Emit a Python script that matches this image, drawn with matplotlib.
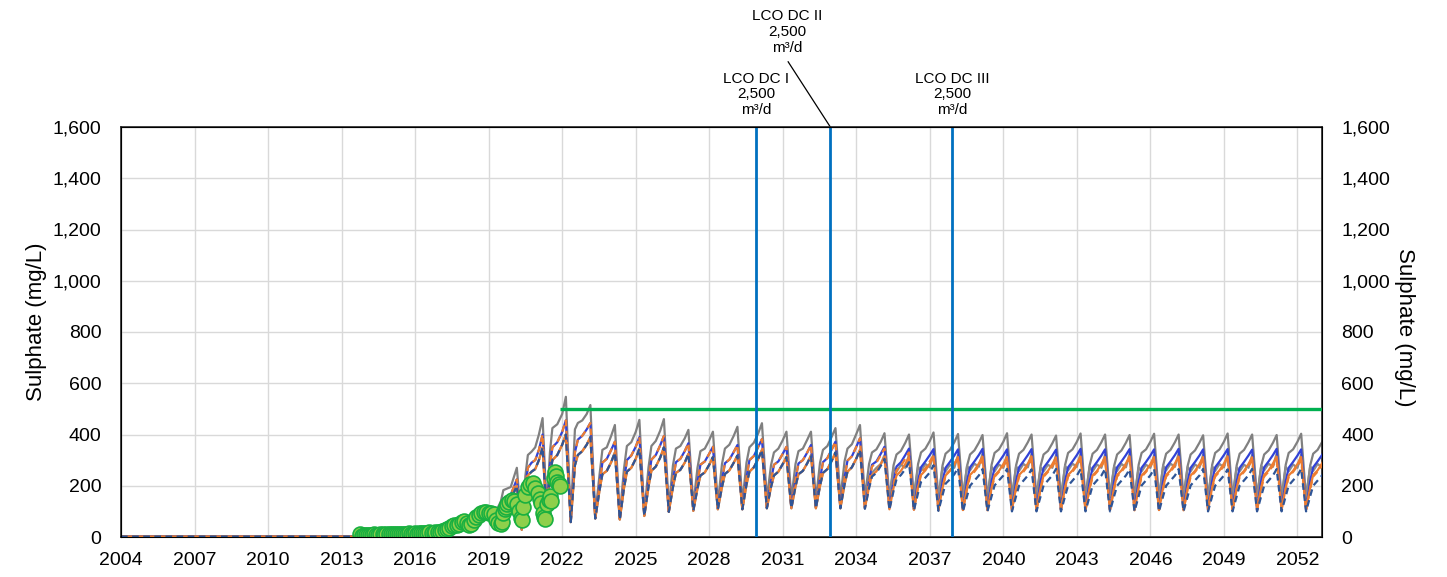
import numpy as np
import matplotlib
matplotlib.use("Agg")
import matplotlib.pyplot as plt
import matplotlib.ticker as mticker
from matplotlib.transforms import blended_transform_factory

plt.rcParams['font.family'] = ['Liberation Sans', 'DejaVu Sans']

# observed sulphate (decimal year, mg/L)
obs_year = [2013.75, 2013.83, 2013.92, 2014.0, 2014.08, 2014.17, 2014.25, 2014.33, 2014.42, 2014.5,
            2014.58, 2014.67, 2014.75, 2014.83, 2014.92, 2015.0, 2015.08, 2015.17, 2015.25, 2015.33,
            2015.42, 2015.5, 2015.58, 2015.67, 2015.75, 2015.83, 2015.92, 2016.0, 2016.08, 2016.17,
            2016.25, 2016.33, 2016.42, 2016.5, 2016.58, 2016.67, 2016.75, 2016.83, 2016.92, 2017.0,
            2017.1, 2017.2, 2017.3, 2017.4, 2017.5, 2017.6, 2017.7, 2017.8, 2017.9, 2018.0,
            2018.1, 2018.2, 2018.3, 2018.4, 2018.5, 2018.6, 2018.7, 2018.8, 2018.9, 2019.0,
            2019.1, 2019.2, 2019.3, 2019.4, 2019.5, 2019.55, 2019.6, 2019.65, 2019.7, 2019.75,
            2019.85, 2019.95, 2020.05, 2020.15, 2020.25, 2020.3, 2020.35, 2020.4, 2020.5, 2020.6,
            2020.7, 2020.8, 2020.9, 2021.0, 2021.1, 2021.15, 2021.2, 2021.25, 2021.3, 2021.4,
            2021.45, 2021.5, 2021.55, 2021.65, 2021.7, 2021.75, 2021.8, 2021.85, 2021.9]
obs_val = [10, 4, 8, 6, 9, 7, 8, 10, 9, 8,
           10, 11, 9, 10, 12, 10, 11, 12, 10, 12,
           13, 12, 11, 13, 14, 12, 13, 15, 13, 14,
           16, 15, 14, 16, 18, 17, 15, 18, 20, 19,
           22, 26, 30, 36, 42, 46, 48, 52, 58, 62,
           55, 45, 50, 65, 78, 86, 92, 96, 98, 95,
           92, 88, 65, 55, 50, 58, 95, 110, 118, 128,
           138, 144, 140, 130, 100, 75, 68, 118, 165, 195,
           205, 210, 190, 170, 150, 132, 95, 78, 70, 130,
           145, 160, 140, 230, 255, 240, 216, 205, 200]

# model, before the seasonal cycles (decimal year, mg/L)
pre_year = [2004.0, 2013.5, 2014.0, 2015.0, 2016.0, 2017.0, 2017.5, 2018.0, 2018.5, 2018.8,
            2019.1, 2019.3, 2019.5, 2019.6, 2019.9, 2020.15, 2020.35, 2020.5, 2020.6, 2020.75,
            2020.9, 2021.05, 2021.2, 2021.37, 2021.5, 2021.6, 2021.8, 2022.0, 2022.15]
grey_hi_pre = [3, 3, 6, 9, 13, 18, 35, 55, 75, 105,
               118, 100, 140, 183, 195, 270, 40, 240, 320, 333,
               350, 400, 464, 105, 330, 425, 440, 480, 547]
grey_lo_pre = [2, 2, 4, 7, 10, 14, 27, 42, 58, 80,
               90, 75, 100, 130, 145, 200, 28, 180, 240, 255,
               265, 300, 350, 70, 240, 300, 320, 360, 400]
blue_pre = [2, 2, 5, 8, 12, 16, 30, 48, 65, 90,
            100, 85, 115, 150, 165, 225, 30, 200, 270, 290,
            300, 340, 400, 80, 280, 350, 370, 410, 455]
orange_pre = [2, 2, 4, 7, 10, 14, 27, 42, 58, 80,
              90, 75, 100, 130, 145, 200, 28, 180, 240, 255,
              265, 300, 350, 70, 240, 300, 320, 360, 400]
orange_dash_pre = [2, 2, 5, 8, 12, 16, 30, 48, 65, 90,
                   100, 85, 115, 150, 165, 225, 30, 200, 270, 290,
                   300, 340, 400, 80, 280, 350, 370, 410, 455]
blue_dash_pre = [2, 2, 4, 7, 10, 14, 27, 42, 58, 80,
                 90, 75, 100, 130, 145, 200, 28, 180, 240, 255,
                 265, 300, 350, 70, 240, 300, 320, 360, 400]

# seasonal cycles: one row per year, values at trough, rise, plateau, mid, pre-peak, peak
cycle_years = list(range(2022, 2053))
phase = [0.35, 0.52, 0.64, 0.82, 1.0, 1.15]

grey_hi = [
    [74, 420, 445, 455, 480, 515], [86, 240, 340, 350, 395, 437], [80, 265, 355, 370, 410, 457],
    [91, 270, 355, 375, 415, 460], [118, 280, 345, 355, 385, 418], [125, 270, 335, 345, 378, 411],
    [130, 285, 345, 360, 395, 430], [135, 290, 350, 368, 405, 444], [150, 280, 330, 345, 378, 411],
    [150, 285, 335, 345, 380, 411], [145, 290, 340, 355, 392, 425], [150, 295, 345, 362, 402, 437],
    [155, 285, 330, 342, 372, 405], [150, 280, 322, 336, 368, 400], [155, 285, 330, 345, 375, 408],
    [150, 280, 325, 340, 370, 402], [155, 278, 322, 338, 368, 398], [150, 282, 328, 342, 372, 405],
    [152, 280, 325, 340, 370, 400], [155, 278, 322, 336, 366, 396], [150, 282, 328, 342, 372, 404],
    [152, 280, 325, 340, 370, 400], [155, 278, 322, 338, 368, 398], [150, 282, 328, 342, 372, 403],
    [152, 280, 325, 340, 370, 400], [155, 278, 322, 338, 368, 397], [150, 282, 328, 342, 372, 404],
    [152, 280, 325, 340, 370, 400], [155, 278, 322, 338, 368, 398], [150, 282, 328, 342, 372, 403],
    [152, 280, 325, 340, 370, 400]]
grey_lo = [
    [58, 280, 320, 335, 360, 390], [72, 180, 245, 258, 292, 330], [68, 190, 255, 270, 305, 345],
    [82, 195, 258, 275, 310, 350], [98, 195, 250, 262, 290, 325], [102, 190, 240, 252, 282, 312],
    [108, 195, 246, 260, 290, 318], [108, 205, 255, 272, 305, 340], [112, 195, 240, 255, 285, 312],
    [112, 198, 245, 258, 288, 318], [112, 200, 250, 265, 298, 330], [112, 205, 255, 272, 306, 340],
    [130, 240, 250, 270, 285, 320], [150, 270, 255, 282, 270, 322], [155, 275, 258, 285, 272, 325],
    [152, 272, 256, 282, 270, 320], [155, 278, 260, 286, 274, 326], [152, 274, 256, 283, 270, 322],
    [155, 276, 258, 285, 272, 325], [152, 272, 256, 282, 270, 320], [155, 278, 260, 286, 274, 326],
    [152, 274, 256, 283, 270, 322], [155, 276, 258, 285, 272, 325], [152, 272, 256, 282, 270, 320],
    [155, 278, 260, 286, 274, 326], [152, 274, 256, 283, 270, 322], [155, 276, 258, 285, 272, 325],
    [152, 272, 256, 282, 270, 320], [155, 278, 260, 286, 274, 326], [152, 274, 256, 283, 270, 322],
    [155, 276, 258, 285, 272, 325]]
blue = [
    [60, 330, 380, 395, 420, 445], [75, 200, 290, 305, 340, 372], [70, 215, 300, 318, 352, 390],
    [85, 220, 302, 320, 358, 394], [100, 222, 292, 305, 335, 366], [105, 215, 282, 295, 325, 352],
    [110, 222, 288, 302, 332, 359], [110, 232, 300, 316, 352, 382], [115, 220, 282, 295, 325, 352],
    [115, 225, 287, 300, 330, 359], [115, 228, 292, 308, 342, 372], [115, 232, 298, 315, 352, 385],
    [115, 220, 282, 295, 325, 352], [112, 218, 275, 292, 320, 345], [108, 220, 272, 295, 320, 343],
    [108, 218, 270, 293, 318, 342], [106, 220, 272, 295, 320, 344], [108, 218, 270, 293, 318, 342],
    [106, 220, 272, 295, 320, 343], [108, 218, 270, 293, 318, 341], [106, 220, 272, 295, 320, 344],
    [108, 218, 270, 293, 318, 342], [106, 220, 272, 295, 320, 343], [108, 218, 270, 293, 318, 342],
    [106, 220, 272, 295, 320, 344], [108, 218, 270, 293, 318, 342], [106, 220, 272, 295, 320, 343],
    [108, 218, 270, 293, 318, 341], [106, 220, 272, 295, 320, 344], [108, 218, 270, 293, 318, 342],
    [106, 220, 272, 295, 320, 343]]
orange = [
    [58, 280, 320, 335, 360, 390], [72, 180, 245, 258, 292, 330], [68, 190, 255, 270, 305, 345],
    [82, 195, 258, 275, 310, 350], [98, 195, 250, 262, 290, 325], [102, 190, 240, 252, 282, 312],
    [108, 195, 246, 260, 290, 318], [108, 205, 255, 272, 305, 340], [112, 195, 240, 255, 285, 312],
    [112, 198, 245, 258, 288, 318], [112, 200, 250, 265, 298, 330], [112, 205, 255, 272, 306, 340],
    [112, 195, 242, 256, 285, 312], [108, 192, 240, 258, 285, 313], [106, 194, 242, 260, 287, 315],
    [104, 192, 240, 258, 285, 312], [106, 194, 242, 260, 287, 314], [104, 192, 240, 258, 285, 312],
    [106, 194, 242, 260, 287, 315], [104, 192, 240, 258, 285, 311], [106, 194, 242, 260, 287, 314],
    [104, 192, 240, 258, 285, 312], [106, 194, 242, 260, 287, 315], [104, 192, 240, 258, 285, 312],
    [106, 194, 242, 260, 287, 314], [104, 192, 240, 258, 285, 312], [106, 194, 242, 260, 287, 315],
    [104, 192, 240, 258, 285, 311], [106, 194, 242, 260, 287, 314], [104, 192, 240, 258, 285, 312],
    [106, 194, 242, 260, 287, 315]]
orange_dash = [
    [60, 330, 380, 395, 420, 445], [75, 200, 290, 305, 340, 372], [70, 215, 300, 318, 352, 390],
    [85, 220, 302, 320, 358, 394], [100, 222, 292, 305, 335, 366], [105, 215, 282, 295, 325, 352],
    [110, 222, 288, 302, 332, 359], [110, 232, 300, 316, 352, 382], [115, 220, 282, 295, 325, 352],
    [115, 225, 287, 300, 330, 359], [115, 228, 292, 308, 342, 372], [115, 232, 298, 315, 352, 385],
    [114, 215, 275, 290, 320, 345], [110, 205, 260, 278, 305, 330], [108, 198, 250, 268, 295, 318],
    [106, 192, 242, 260, 285, 308], [105, 188, 236, 255, 278, 300], [105, 188, 235, 254, 277, 300],
    [105, 188, 236, 255, 278, 301], [105, 188, 235, 254, 277, 299], [105, 188, 236, 255, 278, 300],
    [105, 188, 235, 254, 277, 300], [105, 188, 236, 255, 278, 301], [105, 188, 235, 254, 277, 299],
    [105, 188, 236, 255, 278, 300], [105, 188, 235, 254, 277, 300], [105, 188, 236, 255, 278, 301],
    [105, 188, 235, 254, 277, 299], [105, 188, 236, 255, 278, 300], [105, 188, 235, 254, 277, 300],
    [105, 188, 236, 255, 278, 301]]
blue_dash = [
    [58, 280, 320, 335, 360, 390], [72, 180, 245, 258, 292, 330], [68, 190, 255, 270, 305, 345],
    [82, 195, 258, 275, 310, 350], [98, 195, 250, 262, 290, 325], [102, 190, 240, 252, 282, 312],
    [108, 195, 246, 260, 290, 318], [108, 205, 255, 272, 305, 340], [112, 195, 240, 255, 285, 312],
    [112, 198, 245, 258, 288, 318], [112, 200, 250, 265, 298, 330], [112, 205, 255, 272, 306, 340],
    [110, 190, 236, 250, 278, 305], [106, 180, 225, 242, 265, 292], [104, 172, 215, 232, 252, 280],
    [102, 165, 208, 225, 245, 270], [100, 160, 200, 220, 240, 265], [100, 160, 201, 221, 240, 266],
    [100, 160, 200, 220, 240, 264], [100, 160, 201, 221, 241, 266], [100, 160, 200, 220, 240, 265],
    [100, 160, 201, 221, 240, 266], [100, 160, 200, 220, 240, 264], [100, 160, 201, 221, 241, 266],
    [100, 160, 200, 220, 240, 265], [100, 160, 201, 221, 240, 266], [100, 160, 200, 220, 240, 264],
    [100, 160, 201, 221, 241, 266], [100, 160, 200, 220, 240, 265], [100, 160, 201, 221, 240, 266],
    [100, 160, 200, 220, 240, 264]]

# objective and discharge events
objective_value = 500
objective_start = 2021.9
event_years = [2029.92, 2032.94, 2037.92]
event_labels = ['LCO DC I\n2,500\nm\u00b3/d', 'LCO DC II\n2,500\nm\u00b3/d', 'LCO DC III\n2,500\nm\u00b3/d']


def build(pre_v, rows):
    t = list(pre_year)
    v = list(pre_v)
    for yr, row in zip(cycle_years, rows):
        for off, val in zip(phase, row):
            t.append(yr + off)
            v.append(val)
    return t, v


fig = plt.figure(figsize=(14.47, 5.77), dpi=100)
ax = fig.add_axes([121 / 1447, 40 / 577, 1201 / 1447, 410 / 577])

ax.plot(*build(grey_hi_pre, grey_hi), color='#808080', lw=1.6, zorder=2)
ax.plot(*build(grey_lo_pre, grey_lo), color='#8C8C8C', lw=1.6, zorder=2)
ax.plot(*build(blue_pre, blue), color='#3142D6', lw=1.6, zorder=3)
ax.plot(*build(orange_pre, orange), color='#ED7D31', lw=1.6, zorder=3)
ax.plot(*build(orange_dash_pre, orange_dash), color='#ED7D31', lw=1.6, ls=(0, (3, 2)), zorder=4)
ax.plot(*build(blue_dash_pre, blue_dash), color='#2F5597', lw=1.6, ls=(0, (3, 2)), zorder=4)

ax.hlines(objective_value, objective_start, 2053, color='#00B050', lw=2.4, zorder=5)
for ev in event_years:
    ax.axvline(ev, color='#0070C0', lw=2, zorder=5)

ax.scatter(obs_year, obs_val, s=115, facecolor='#8ED04B', edgecolor='#19B040', lw=1.2, zorder=6)

ax.set_xlim(2004, 2053)
ax.set_ylim(0, 1600)
ax.set_xticks(range(2004, 2053, 3))
ax.set_yticks(range(0, 1601, 200))
ax.yaxis.set_major_formatter(mticker.FuncFormatter(lambda v, p: f'{v:,.0f}'))
ax.grid(True, color='#D9D9D9', lw=1)
ax.set_axisbelow(True)
ax.tick_params(axis='y', length=0, labelsize=14, pad=14)
ax.tick_params(axis='x', length=0, labelsize=14, pad=11)
for s in ax.spines.values():
    s.set_color('#262626')
    s.set_linewidth(1.2)

ax2 = ax.twinx()
ax2.set_ylim(0, 1600)
ax2.set_yticks(range(0, 1601, 200))
ax2.yaxis.set_major_formatter(mticker.FuncFormatter(lambda v, p: f'{v:,.0f}'))
ax2.tick_params(axis='y', length=0, labelsize=14, pad=14)

fig.text(37 / 1447, 0.442, 'Sulphate (mg/L)', rotation=90, ha='center', va='center', fontsize=16)
fig.text(1405 / 1447, 0.432, 'Sulphate (mg/L)', rotation=270, ha='center', va='center', fontsize=16)

trans = blended_transform_factory(ax.transData, ax.transAxes)
ax.text(event_years[0], 1.08, event_labels[0], transform=trans, ha='center', va='center',
        fontsize=11, linespacing=1.15)
ax.text(2031.2, 1.232, event_labels[1], transform=trans, ha='center', va='center',
        fontsize=11, linespacing=1.15)
ax.text(event_years[2], 1.08, event_labels[2], transform=trans, ha='center', va='center',
        fontsize=11, linespacing=1.15)
# leader line from the DC II label down to its line
ax.plot([2031.22, event_years[1]], [1.159, 1.0], transform=trans, color='black', lw=0.9,
        clip_on=False)

fig.savefig('out.png', dpi=100)
